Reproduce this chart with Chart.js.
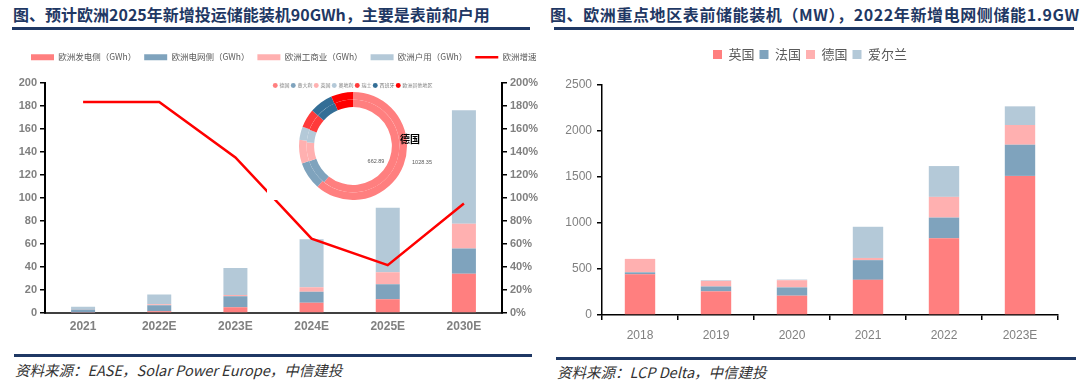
<!DOCTYPE html>
<html><head><meta charset="utf-8">
<script src="https://cdn.jsdelivr.net/npm/chart.js@4.4.1/dist/chart.umd.min.js"></script>
<style>
html,body{margin:0;padding:0;background:#fff;}
body{width:1080px;height:380px;position:relative;overflow:hidden;font-family:"Noto Sans CJK SC",sans-serif;}
.title{position:absolute;top:3px;font-weight:bold;font-size:16px;color:#1F3864;white-space:nowrap;line-height:22px;}
.rule{position:absolute;height:3px;background:#1F3864;}
.src{position:absolute;font-style:italic;font-size:14.5px;color:#333;white-space:nowrap;line-height:18px;}
#leftWrap{position:absolute;left:0;top:0;width:540px;height:340px;overflow:hidden;}
#leftChart{position:absolute;left:0;top:0;}
#pieChart{position:absolute;left:267px;top:78px;background:#fff;}
#rightChart{position:absolute;left:540px;top:0;}
</style></head>
<body>
<div class="title" style="left:13px;">图、预计欧洲2025年新增投运储能装机90GWh，主要是表前和户用</div>
<div class="rule" style="left:12px;top:27px;width:518px;"></div>
<div class="title" style="left:550px;letter-spacing:0.6px;">图、欧洲重点地区表前储能装机（MW），2022年新增电网侧储能1.9GW</div>
<div class="rule" style="left:554px;top:27px;width:520px;"></div>

<div id="leftWrap"><canvas id="leftChart" width="580" height="340"></canvas></div>
<canvas id="pieChart" width="172" height="122"></canvas>
<canvas id="rightChart" width="540" height="340"></canvas>

<div class="rule" style="left:14px;top:354px;width:518px;"></div>
<div class="src" style="left:15px;top:361px;">资料来源：EASE，Solar Power Europe，中信建投</div>
<div class="rule" style="left:556px;top:357px;width:520px;"></div>
<div class="src" style="left:557px;top:363px;">资料来源：LCP Delta，中信建投</div>

<script>
// ---- Left chart data ----
const leftCategories = ['2021','2022E','2023E','2024E','2025E','2030E'];
const genSide   = [0.5, 1.5, 5, 9, 12, 34];      // 欧洲发电侧（GWh）
const gridSide  = [2.5, 5.2, 9.6, 9.4, 13, 22];  // 欧洲电网侧（GWh）
const ciSide    = [0.3, 0.9, 1.1, 4, 10.3, 21.5];// 欧洲工商业（GWh）
const homeSide  = [2.2, 8.4, 23.3, 41.6, 56, 98.5]; // 欧洲户用（GWh）
const growthPct = [183, 183, 135, 64.5, 41.5, 95];  // 欧洲增速 (%)

// ---- Inset doughnut data ----
const pieLabels = ['德国','意大利','英国','奥地利','瑞士','西班牙','欧洲其他地区'];
const pieOuter  = [1028.35, 140, 118, 67, 93, 118, 110];
const pieInner  = [662.89, 98, 72, 48, 63, 78, 70];

// ---- Right chart data ----
const rightCategories = ['2018','2019','2020','2021','2022','2023E'];
const ukMW      = [442, 257, 210, 382, 834, 1512];
const franceMW  = [22, 53, 90, 214, 225, 339];
const germanyMW = [146, 61, 78, 24, 225, 214];
const irelandMW = [0, 7, 7, 339, 335, 203];

const C1 = '#FF7F7F', C2 = '#7FA3BD', C3 = '#FFB0B0', C4 = '#B4C9D8';

function legendGap(extra){
  return {id:'legendGap', beforeInit(chart){
    const fit = chart.legend.fit;
    chart.legend.fit = function(){ fit.bind(chart.legend)(); this.height += extra; };
  }};
}
function legendShift(dx){
  return {id:'legendShift', afterLayout(chart){
    chart.legend.left += dx; chart.legend.right += dx;
  }};
}

const tickFontBold = {size:11, weight:'bold', family:"'Liberation Sans', Arial"};

new Chart(document.getElementById('leftChart'), {
  data: {
    labels: leftCategories,
    datasets: [
      {type:'bar', label:'欧洲发电侧（GWh）', data:genSide, backgroundColor:C1, pointStyle:'rect', order:1, yAxisID:'y'},
      {type:'bar', label:'欧洲电网侧（GWh）', data:gridSide, backgroundColor:C2, pointStyle:'rect', order:1, yAxisID:'y'},
      {type:'bar', label:'欧洲工商业（GWh）', data:ciSide, backgroundColor:C3, pointStyle:'rect', order:1, yAxisID:'y'},
      {type:'bar', label:'欧洲户用（GWh）', data:homeSide, backgroundColor:C4, pointStyle:'rect', order:1, yAxisID:'y'},
      {type:'line', label:'欧洲增速', data:growthPct, borderColor:'#FF0000', backgroundColor:'#FF0000', borderWidth:2.5, pointRadius:0, pointStyle:'line', tension:0, order:0, yAxisID:'y1'}
    ]
  },
  options: {
    responsive:false, animation:false,
    datasets:{bar:{categoryPercentage:1, barPercentage:0.315}},
    layout:{padding:{left:0, top:45, right:0, bottom:0}},
    plugins:{
      tooltip:{enabled:false},
      legend:{position:'top', align:'start', labels:{usePointStyle:true, pointStyleWidth:23, boxWidth:23, boxHeight:6, padding:8, color:'#595959', font:{size:8.5, family:"'Noto Sans CJK SC'"}, sort:(a,b)=>a.datasetIndex-b.datasetIndex}}
    },
    scales:{
      x:{stacked:true, grid:{display:false, drawTicks:false}, border:{display:true, color:'#404040', width:2},
         ticks:{padding:6, color:'#808080', font:{size:12, weight:'bold', family:"'Liberation Sans Narrow','Liberation Sans'"}},
         afterFit:s=>{s.height=27;}},
      y:{stacked:true, min:0, max:200, position:'left',
         ticks:{stepSize:20, padding:3, color:'#808080', font:tickFontBold},
         grid:{drawOnChartArea:false, drawTicks:true, tickLength:5, color:'#000', lineWidth:1.5},
         border:{color:'#000', width:2}, afterFit:s=>{s.width=45;}},
      y1:{min:0, max:200, position:'right',
         ticks:{stepSize:20, padding:3, color:'#808080', font:tickFontBold, callback:v=>v+'%'},
         grid:{drawOnChartArea:false, drawTicks:true, tickLength:5, color:'#000', lineWidth:1.5},
         border:{color:'#000', width:2}, afterFit:s=>{s.width=78;}}
    }
  },
  plugins:[legendGap(11), legendShift(23)]
});

const pieColors = [C1, C2, C3, C4, '#FF3B3B', '#336E96', '#FF0000'];
const pieText = {id:'pieText', afterDraw(c){
  const ctx = c.ctx; ctx.save();
  ctx.textAlign='center'; ctx.textBaseline='middle';
  ctx.fillStyle='#000'; ctx.font='bold 10px "Noto Sans CJK SC"';
  ctx.fillText(pieLabels[0], 143, 61);
  ctx.fillStyle='#595959'; ctx.font='5.5px "Liberation Sans"';
  ctx.fillText(pieInner[0].toFixed(2), 109, 83);
  ctx.fillText(pieOuter[0].toFixed(2), 155, 84);
  ctx.restore();
}};
new Chart(document.getElementById('pieChart'), {
  type:'doughnut',
  data:{labels:pieLabels, datasets:[
    {data:pieOuter, backgroundColor:pieColors, borderWidth:0},
    {data:pieInner, backgroundColor:pieColors, borderWidth:0}
  ]},
  options:{
    responsive:false, animation:false, cutout:'72%',
    layout:{padding:{top:3, left:0, right:0, bottom:0}},
    plugins:{tooltip:{enabled:false},
      legend:{position:'top', labels:{usePointStyle:true, pointStyle:'circle', boxWidth:3.5, boxHeight:3.5, padding:2, color:'#808080', font:{size:5, family:"'Noto Sans CJK SC'"}}}}
  },
  plugins:[pieText, legendGap(-6)]
});

new Chart(document.getElementById('rightChart'), {
  type:'bar',
  data:{labels:rightCategories, datasets:[
    {label:'英国', data:ukMW, backgroundColor:C1},
    {label:'法国', data:franceMW, backgroundColor:C2},
    {label:'德国', data:germanyMW, backgroundColor:C3},
    {label:'爱尔兰', data:irelandMW, backgroundColor:C4}
  ]},
  options:{
    responsive:false, animation:false,
    datasets:{bar:{categoryPercentage:1, barPercentage:0.4}},
    layout:{padding:{top:43, right:22, left:0, bottom:0}},
    plugins:{tooltip:{enabled:false},
      legend:{position:'top', labels:{boxWidth:9, boxHeight:9, padding:5, color:'#595959', font:{size:13, family:"'Noto Sans CJK SC'"}}}},
    scales:{
      x:{stacked:true, grid:{display:true, offset:true, drawOnChartArea:false, drawTicks:true, tickLength:5, color:'#000', lineWidth:1.5},
         border:{color:'#000', width:1.5}, ticks:{padding:8, color:'#808080', font:{size:12, family:"'Liberation Sans'"}},
         afterFit:s=>{s.height=25;}},
      y:{stacked:true, min:0, max:2500, ticks:{stepSize:500, padding:5, color:'#808080', font:{size:12, family:"'Liberation Sans'"}, callback:v=>String(v)},
         grid:{drawOnChartArea:false, drawTicks:true, tickLength:5, color:'#000', lineWidth:1.5},
         border:{color:'#000', width:1.5}, afterFit:s=>{s.width=62;}}
    }
  },
  plugins:[legendGap(14), legendShift(11)]
});
</script>
</body></html>
